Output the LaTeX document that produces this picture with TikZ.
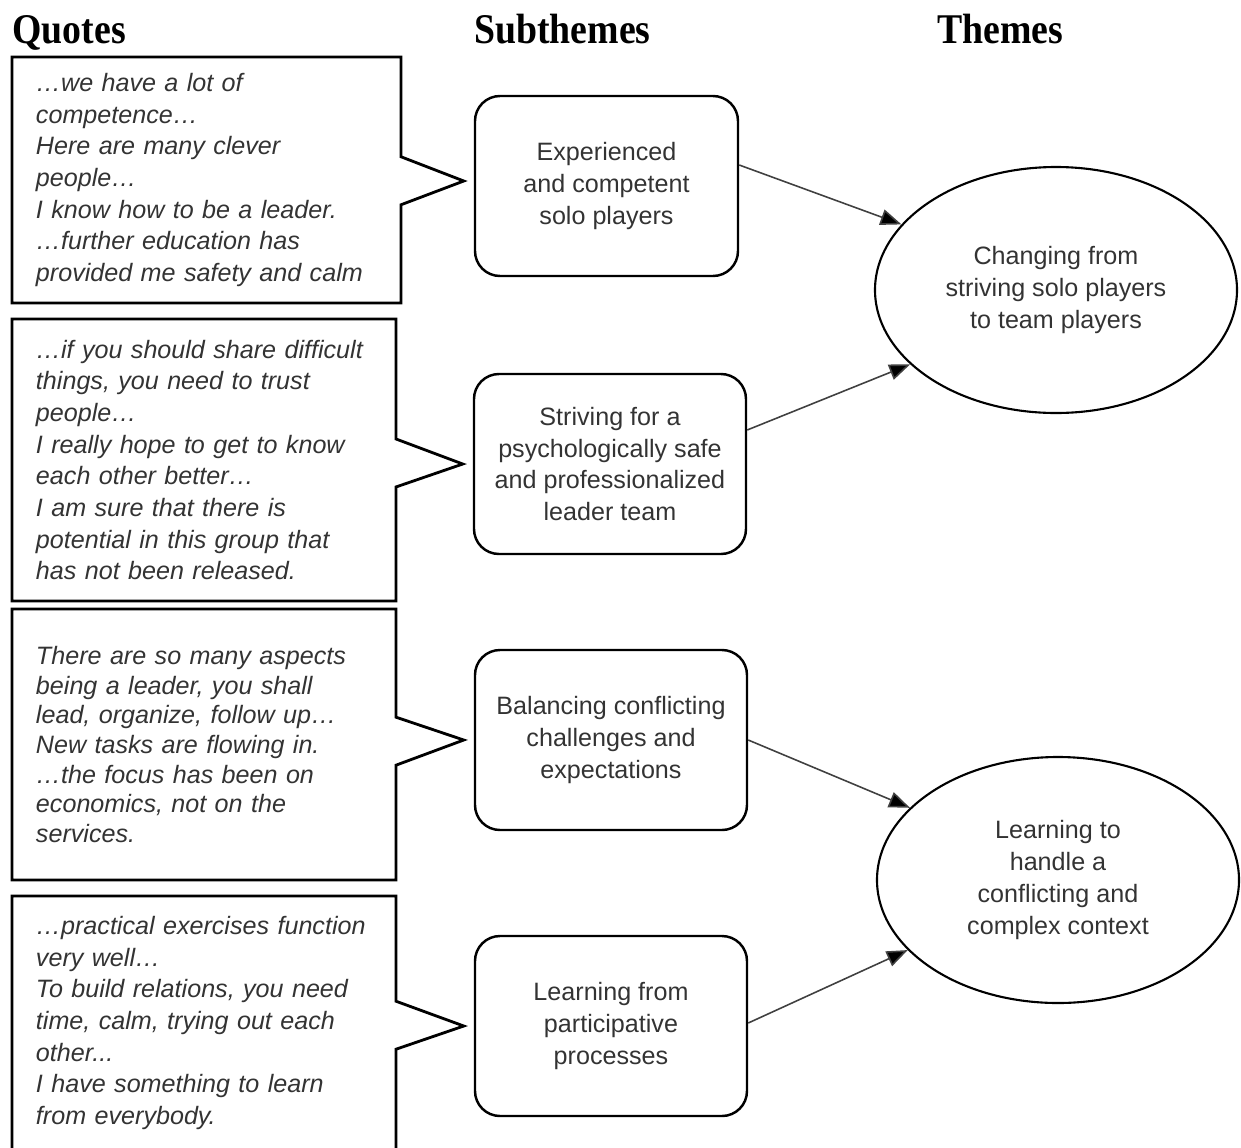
\documentclass[tikz,border=0pt]{standalone}
\usepackage{fontspec}
\setmainfont{Liberation Sans}
\newfontfamily\headfont{Liberation Serif}
\usetikzlibrary{shapes.geometric,shapes.callouts,arrows.meta}
\definecolor{textgray}{HTML}{333333}
\tikzset{
    heading/.style={anchor=base west,inner sep=0pt,yscale=1.12,font=\headfont\bfseries\fontsize{21.5}{26}\selectfont},
    quote/.style={rectangle callout,draw,line width=1.6pt,align=left,inner xsep=4.8mm,text width=67.2mm,
        callout pointer width=9.6mm,text=textgray,font=\itshape\fontsize{14.3}{18}\selectfont},
    subtheme/.style={rectangle,rounded corners=5mm,draw,line width=1.4pt,align=center,minimum width=54.4mm,
        minimum height=36mm,text=textgray,font=\fontsize{14.3}{18.1}\selectfont},
    theme/.style={ellipse,draw,line width=1.2pt,align=center,minimum width=72.4mm,minimum height=49.2mm,
        inner sep=0pt,text=textgray,font=\fontsize{14.3}{18.1}\selectfont},
    directed/.style={arrows={-Triangle[length=4.2mm,width=3.2mm,fill=black]},line width=0.9pt,draw=black!75},
}
\begin{document}
\begin{tikzpicture}[x=0.2mm,y=-0.2mm]
    \useasboundingbox (0,0) rectangle (1241,1147);

    \node[heading] (hq) at (12,43) {Quotes};
    \node[heading] (hs) at (474,43) {Subthemes};
    \node[heading] (ht) at (937,43) {Themes};

    \node[subtheme,minimum width=52.6mm] (sub1) at (606.5,186) {Experienced\\and competent\\solo players};
    \node[subtheme] (sub2) at (610,464) {Striving for a\\psychologically safe\\and professionalized\\leader team};
    \node[subtheme] (sub3) at (611,740) {Balancing conflicting\\challenges and\\expectations};
    \node[subtheme] (sub4) at (611,1026) {Learning from\\participative\\processes};

    \node[theme] (th1) at (1056,290) {Changing from\\striving solo players\\to team players};
    \node[theme] (th2) at (1058,880) {Learning to\\handle a\\conflicting and\\complex context};

    \node[quote,text width=68.2mm,minimum height=49.2mm,callout absolute pointer={([xshift=-2mm,yshift=1mm]sub1.west)}] (q1) at (206.5,180)
        {…we have a lot of\\competence…\\Here are many clever\\people…\\I know how to be a leader.\\…further education has\\provided me safety and calm};
    \node[quote,minimum height=56.4mm,callout absolute pointer={([xshift=-2mm]sub2.west)}] (q2) at (204,460)
        {…if you should share difficult\\things, you need to trust\\people…\\I really hope to get to know\\each other better…\\I am sure that there is\\potential in this group that\\has not been released.};
    \node[quote,minimum height=54.2mm,font=\itshape\fontsize{14.3}{16.8}\selectfont,callout absolute pointer={([xshift=-2mm]sub3.west)}] (q3) at (204,744.5)
        {There are so many aspects\\being a leader, you shall\\lead, organize, follow up…\\New tasks are flowing in.\\…the focus has been on\\economics, not on the\\services.};
    \node[quote,minimum height=50.8mm,callout absolute pointer={([xshift=-2mm]sub4.west)}] (q4) at (204,1023)
        {…practical exercises function\\very well…\\To build relations, you need\\time, calm, trying out each\\other...\\I have something to learn\\from everybody.};

    \draw[directed] ([yshift=4.2mm]sub1.east) to (th1.157);
    \draw[directed] ([yshift=6.8mm]sub2.east) to (th1.207);
    \draw[directed] (sub3.east) to (th2.154);
    \draw[directed] ([yshift=0.6mm]sub4.east) to (th2.205);
\end{tikzpicture}
\end{document}
